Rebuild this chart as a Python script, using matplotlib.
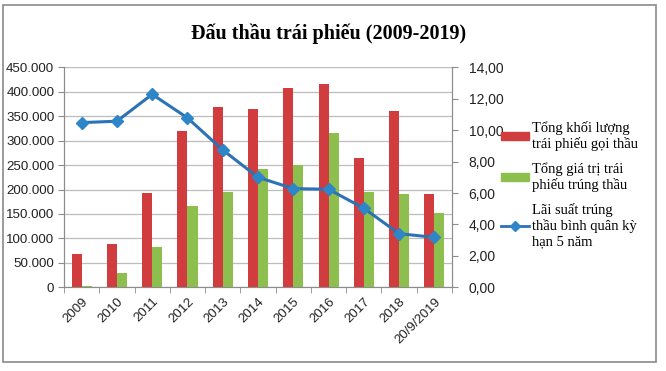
import matplotlib
matplotlib.use("Agg")
import matplotlib.pyplot as plt
from matplotlib.patches import Rectangle
from matplotlib.lines import Line2D
import numpy as np

years = ['2009', '2010', '2011', '2012', '2013', '2014', '2015', '2016',
         '2017', '2018', '20/9/2019']
# nghin ty dong
goi_thau = [69, 88, 192, 320, 369, 365, 408, 416, 264, 360, 191]
trung_thau = [2, 29, 82, 167, 194, 241, 250, 316, 194, 191, 153]
# %
lai_suat = [10.48, 10.57, 12.28, 10.78, 8.74, 7.00, 6.28, 6.24, 5.03, 3.41, 3.18]

labels = ['Tổng khối lượng\ntrái phiếu gọi thầu',
          'Tổng giá trị trái\nphiếu trúng thầu',
          'Lãi suất trúng\nthầu bình quân kỳ\nhạn 5 năm']

red = '#D13C3E'
green = '#8DBF4F'
blue = '#2C72B5'
grey = '#8C8C8C'

fig = plt.figure(figsize=(6.66, 3.71), dpi=100)
ax = fig.add_axes([0.0961, 0.2256, 0.5826, 0.593])
ax2 = ax.twinx()

x = np.arange(len(years))
w = 0.285
ax.bar(x - w / 2, goi_thau, w, color=red, zorder=3)
ax.bar(x + w / 2, trung_thau, w, color=green, zorder=3)
ax2.plot(x, lai_suat, color=blue, lw=2.2, marker='D', ms=6.5,
         markerfacecolor='#2E86C8', markeredgecolor='#2E86C8', zorder=4)

ax.set_xlim(-0.5, len(years) - 0.5)
ax.set_ylim(0, 450)
ax.set_yticks(np.arange(0, 451, 50))
ax.set_yticklabels(['{:,}'.format(v * 1000).replace(',', '.') for v in range(0, 451, 50)])
ax2.set_ylim(0, 14)
ax2.set_yticks(np.arange(0, 15, 2))
ax2.set_yticklabels(['{:.2f}'.format(v).replace('.', ',') for v in range(0, 15, 2)])

ax.yaxis.grid(True, color='#BDBDBD', lw=0.9, zorder=0)
ax.set_axisbelow(True)

ax.set_xticks(x)
ax.set_xticklabels(years, rotation=45, ha='right', rotation_mode='anchor')
ax.set_xticks(np.arange(-0.5, len(years), 1), minor=True)
ax.tick_params(axis='x', which='major', length=0, pad=6)
ax.tick_params(axis='x', which='minor', length=4, color=grey)

for a in (ax, ax2):
    a.spines['top'].set_visible(False)
    for s in ('left', 'right', 'bottom'):
        a.spines[s].set_color(grey)
    a.tick_params(axis='y', length=4, color=grey, labelsize=10)
ax.tick_params(axis='x', labelsize=9.5)
ax.tick_params(axis='y', pad=3, labelsize=9.6)
ax2.tick_params(axis='y', pad=8)

for lab in ax.get_xticklabels() + ax.get_yticklabels() + ax2.get_yticklabels():
    lab.set_fontfamily('Liberation Sans')
    lab.set_color('#222222')

fig.text(0.494, 0.91, 'Đấu thầu trái phiếu (2009-2019)', ha='center', va='center',
         fontsize=14.5, fontweight='bold', family='Liberation Serif')

handles = [Rectangle((0, 0), 1, 1, color=red),
           Rectangle((0, 0), 1, 1, color=green),
           Line2D([], [], color=blue, lw=2, marker='D', ms=5,
                  markerfacecolor='#2E86C8', markeredgecolor='#2E86C8')]
fig.legend(handles, labels, loc='upper left', bbox_to_anchor=(0.744, 0.69),
           frameon=False, prop={'family': 'Liberation Serif', 'size': 10.5},
           handlelength=1.9, handleheight=0.5, handletextpad=0.2,
           labelspacing=0.75, borderaxespad=0)

fig.add_artist(Rectangle((3 / 666, 1 - 362 / 371), 653 / 666, 357 / 371,
                         transform=fig.transFigure, fill=False,
                         edgecolor='#8A8A8A', lw=1.2))

fig.savefig('out.png', dpi=100)
